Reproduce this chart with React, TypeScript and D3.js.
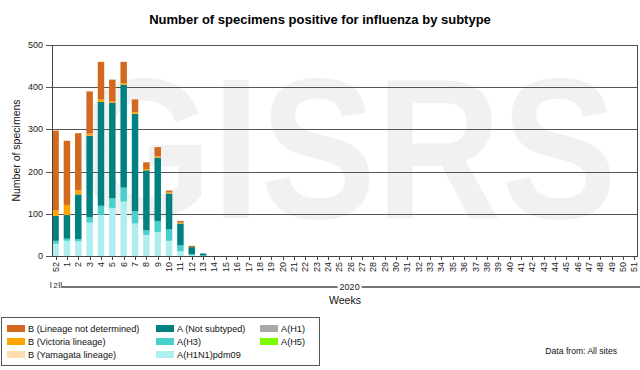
import React from 'react';
import * as d3 from 'd3';

// semanas epidemiologicas (52 de 2019, luego 1..51 de 2020)
const weeks = ["52", "1", "2", "3", "4", "5", "6", "7", "8", "9", "10", "11", "12", "13", "14", "15", "16", "17",
  "18", "19", "20", "21", "22", "23", "24", "25", "26", "27", "28", "29", "30", "31", "32", "33", "34", "35",
  "36", "37", "38", "39", "40", "41", "42", "43", "44", "45", "46", "47", "48", "49", "50", "51"];

const aH1 = [0, 0, 0, 0, 0, 0, 0, 0, 0, 0, 0, 0, 0, 0, 0, 0, 0, 0, 0, 0, 0, 0, 0, 0, 0, 0,
  0, 0, 0, 0, 0, 0, 0, 0, 0, 0, 0, 0, 0, 0, 0, 0, 0, 0, 0, 0, 0, 0, 0, 0, 0, 0];
const aH1N1 = [29, 36, 35, 79, 98, 114, 129, 77, 50, 57, 36, 11, 2, 1, 0, 0, 0, 0, 0, 0, 0, 0, 0, 0, 0, 0,
  0, 0, 0, 0, 0, 0, 0, 0, 0, 0, 0, 0, 0, 0, 0, 0, 0, 0, 0, 0, 0, 0, 0, 0, 0, 0];
const aH3 = [7, 5, 5, 13, 21, 23, 33, 29, 11, 26, 27, 14, 2, 0, 0, 0, 0, 0, 0, 0, 0, 0, 0, 0, 0, 0,
  0, 0, 0, 0, 0, 0, 0, 0, 0, 0, 0, 0, 0, 0, 0, 0, 0, 0, 0, 0, 0, 0, 0, 0, 0, 0];
const aH5 = [0, 0, 0, 0, 0, 0, 0, 0, 0, 0, 0, 0, 0, 0, 0, 0, 0, 0, 0, 0, 0, 0, 0, 0, 0, 0,
  0, 0, 0, 0, 0, 0, 0, 0, 0, 0, 0, 0, 0, 0, 0, 0, 0, 0, 0, 0, 0, 0, 0, 0, 0, 0];
const aNotSub = [59, 56, 106, 193, 246, 226, 244, 231, 142, 150, 85, 52, 17, 5, 0, 0, 0, 0, 0, 0, 0, 0, 0, 0, 0, 0,
  0, 0, 0, 0, 0, 0, 0, 0, 0, 0, 0, 0, 0, 0, 0, 0, 0, 0, 0, 0, 0, 0, 0, 0, 0, 0];
const bYam = [0, 0, 0, 0, 0, 0, 0, 0, 0, 0, 0, 0, 0, 0, 0, 0, 0, 0, 0, 0, 0, 0, 0, 0, 0, 0,
  0, 0, 0, 0, 0, 0, 0, 0, 0, 0, 0, 0, 0, 0, 0, 0, 0, 0, 0, 0, 0, 0, 0, 0, 0, 0];
const bVic = [13, 24, 10, 5, 6, 3, 4, 4, 3, 3, 3, 2, 0, 0, 0, 0, 0, 0, 0, 0, 0, 0, 0, 0, 0, 0,
  0, 0, 0, 0, 0, 0, 0, 0, 0, 0, 0, 0, 0, 0, 0, 0, 0, 0, 0, 0, 0, 0, 0, 0, 0, 0];
const bND = [189, 152, 135, 100, 89, 52, 50, 30, 16, 22, 4, 4, 3, 0, 0, 0, 0, 0, 0, 0, 0, 0, 0, 0, 0, 0,
  0, 0, 0, 0, 0, 0, 0, 0, 0, 0, 0, 0, 0, 0, 0, 0, 0, 0, 0, 0, 0, 0, 0, 0, 0, 0];

const yTicks = [0, 100, 200, 300, 400, 500];
const yearLabels = ["2", "2020"];

// orden de apilado, de abajo hacia arriba
const series = [
  { key: "A(H1)", values: aH1, color: "#a9a9a9" },
  { key: "A(H1N1)pdm09", values: aH1N1, color: "#afeeee" },
  { key: "A(H3)", values: aH3, color: "#48d1cc" },
  { key: "A(H5)", values: aH5, color: "#7cfc00" },
  { key: "A (Not subtyped)", values: aNotSub, color: "#008080" },
  { key: "B (Yamagata lineage)", values: bYam, color: "#ffdead" },
  { key: "B (Victoria lineage)", values: bVic, color: "#ffa500" },
  { key: "B (Lineage not determined)", values: bND, color: "#d2691e" },
];

// orden de la leyenda (por columnas)
const legendOrder = [
  "B (Lineage not determined)", "B (Victoria lineage)", "B (Yamagata lineage)",
  "A (Not subtyped)", "A(H3)", "A(H1N1)pdm09",
  "A(H1)", "A(H5)",
];

const font = "'Liberation Sans', Arial, sans-serif";

export default function App() {
  const left = 52, right = 638, top = 45, bottom = 256;

  const x = d3.scaleBand().domain(weeks).range([left, right]).paddingInner(0.43).paddingOuter(0.03);
  const y = d3.scaleLinear().domain([0, 500]).range([bottom, top]);

  const table = weeks.map((w, i) => {
    const row: any = { week: w };
    series.forEach(s => { row[s.key] = s.values[i]; });
    return row;
  });
  const stacked = d3.stack().keys(series.map(s => s.key))(table);
  const colorOf = (k: string) => series.find(s => s.key === k)!.color;

  const cx = (w: string) => (x(w) as number) + x.bandwidth() / 2;
  const step = x.step();
  const yearY = 287;

  return (
    <svg width={640} height={370} style={{ position: 'absolute', left: 0, top: 0, background: '#fff' }} fontFamily={font}>
      {/* marca de agua */}
      <text x={77} y={218} fontSize={200} fontWeight="bold" fill="#f1f1f1" textLength={540}
        lengthAdjust="spacingAndGlyphs">GISRS</text>

      <text x={320} y={24} textAnchor="middle" fontSize={13} fontWeight="bold" fill="#000">
        Number of specimens positive for influenza by subtype
      </text>

      {/* grilla y eje y */}
      {yTicks.map(t => (
        <g key={t}>
          {t > 0 && <line x1={left} x2={right} y1={Math.round(y(t)) + 0.5} y2={Math.round(y(t)) + 0.5} stroke="#555" />}
          <line x1={left - 6} x2={left} y1={Math.round(y(t)) + 0.5} y2={Math.round(y(t)) + 0.5} stroke="#555" />
          <text x={43} y={y(t) + 3} textAnchor="end" fontSize={9} fill="#222">{t}</text>
        </g>
      ))}

      {/* barras apiladas */}
      {stacked.map(layer => (
        <g key={layer.key} fill={colorOf(layer.key)}>
          {layer.map((d, i) => {
            const h = y(d[0]) - y(d[1]);
            if (h <= 0) return null;
            return <rect key={i} x={x(weeks[i])} y={y(d[1])} width={x.bandwidth()} height={h} />;
          })}
        </g>
      ))}

      <line x1={left + 0.5} x2={left + 0.5} y1={top} y2={bottom} stroke="#444" />
      <line x1={right - 0.5} x2={right - 0.5} y1={top} y2={bottom} stroke="#444" />
      <line x1={left} x2={right} y1={bottom + 0.5} y2={bottom + 0.5} stroke="#444" />

      {/* eje x */}
      {weeks.map(w => (
        <g key={w}>
          <line x1={Math.round(cx(w)) + 0.5} x2={Math.round(cx(w)) + 0.5} y1={bottom} y2={bottom + 4} stroke="#444" />
          <text transform={`translate(${cx(w) + 3},262) rotate(-90)`} textAnchor="end" fontSize={9} fill="#222">{w}</text>
        </g>
      ))}

      {/* años */}
      <line x1={cx("52") - step / 2 + 1} x2={cx("52") - step / 2 + 1} y1={yearY - 5} y2={yearY + 1} stroke="#555" />
      <line x1={cx("52") + step / 2 - 2} x2={cx("52") + step / 2 - 2} y1={yearY - 5} y2={yearY + 1} stroke="#555" />
      <text x={cx("52")} y={yearY + 1} textAnchor="middle" fontSize={8} fill="#222">{yearLabels[0]}</text>
      <line x1={cx("1") - step / 2} x2={cx("1") - step / 2} y1={yearY - 5} y2={yearY + 1} stroke="#555" />
      <line x1={cx("1") - step / 2} x2={640} y1={yearY} y2={yearY} stroke="#777" strokeWidth={2} />
      <rect x={(cx("1") - step / 2 + right) / 2 - 12} y={yearY - 6} width={24} height={10} fill="#fff" />
      <text x={(cx("1") - step / 2 + right) / 2} y={yearY + 3} textAnchor="middle" fontSize={9} fill="#222">{yearLabels[1]}</text>

      <text x={(left + right) / 2} y={304} textAnchor="middle" fontSize={10.5} fill="#111">Weeks</text>
      <text transform={`translate(20,${(top + bottom) / 2}) rotate(-90)`} textAnchor="middle" fontSize={10.5} fill="#111">
        Number of specimens
      </text>

      {/* leyenda */}
      <rect x={1.5} y={317.5} width={318} height={48} fill="#fff" stroke="#555" />
      {legendOrder.map((k, i) => {
        const col = Math.floor(i / 3), row = i % 3;
        const lx = [7, 156, 260][col];
        const ly = 325 + row * 13;
        return (
          <g key={k}>
            <rect x={lx} y={ly} width={18} height={7} fill={colorOf(k)} />
            <text x={lx + 21} y={ly + 7} fontSize={9.2} fill="#111">{k}</text>
          </g>
        );
      })}

      <text x={617} y={354} textAnchor="end" fontSize={8.6} fill="#111">Data from: All sites</text>
    </svg>
  );
}
